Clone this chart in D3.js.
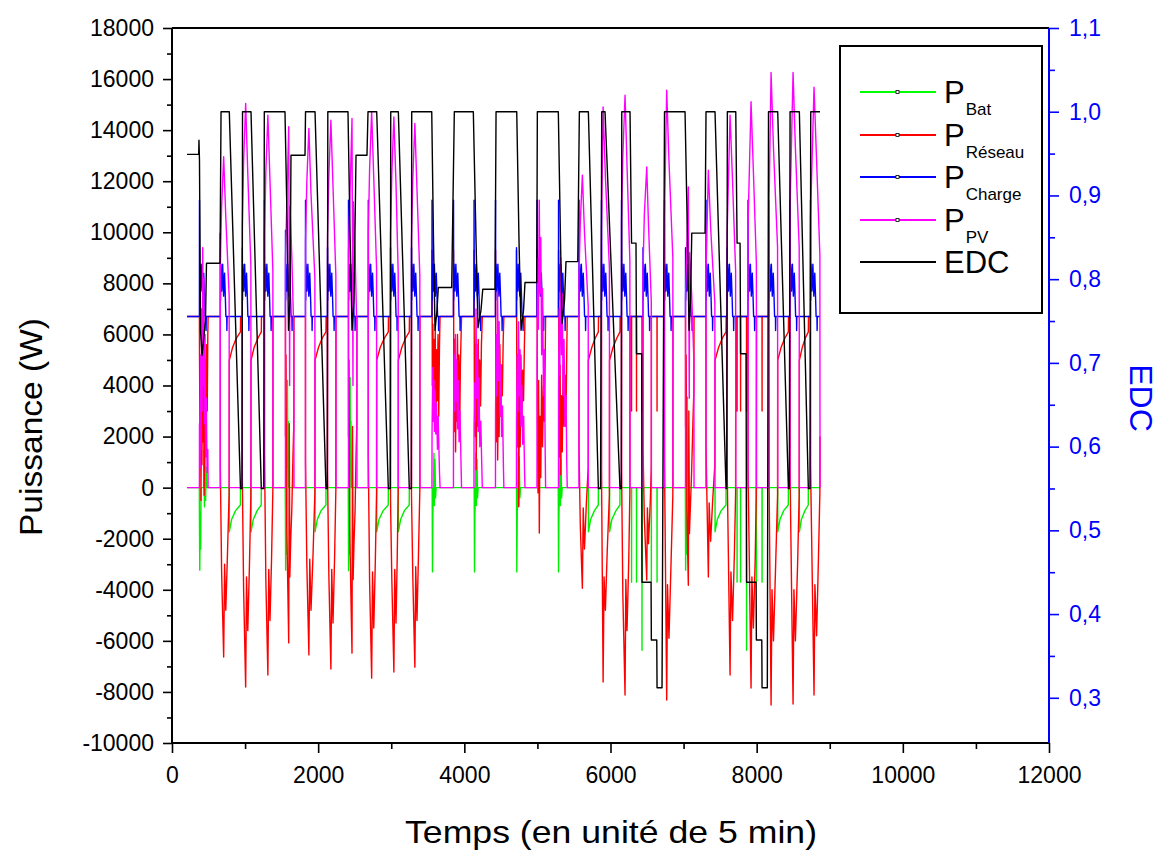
<!DOCTYPE html>
<html>
<head>
<meta charset="utf-8">
<script src="https://cdn.jsdelivr.net/npm/d3@7"></script>
<style>
  body { margin: 0; background: #fff; }
  text { font-family: "Liberation Sans", Arial, sans-serif; }
</style>
</head>
<body>
<svg id="chart" width="1166" height="855"></svg>
<script>
// ---- axis ticks ----
const timeTicks = [0, 2000, 4000, 6000, 8000, 10000, 12000];
const powerTicks = [-10000, -8000, -6000, -4000, -2000, 0, 2000, 4000, 6000, 8000, 10000, 12000, 14000, 16000, 18000];
const edcTicks = [0.3, 0.4, 0.5, 0.6, 0.7, 0.8, 0.9, 1.0, 1.1];

// ---- state of charge (right axis), [time, EDC] ----
const edcSeries = [
  [205,0.949],[365,0.949],[369,0.966],[376,0.942],[390,0.739],[411,0.709],[438,0.733],[458,0.751],[472,0.819],[657,0.819],[671,1.0],
  [784,1.0],[937,0.55],[958,0.55],[965,1.0],
  [1081,1.0],[1222,0.55],[1256,0.55],[1263,1.0],
  [1546,1.0],[1578,0.855],[1594,0.739],[1615,0.775],[1628,0.948],[1820,0.948],[1827,1.0],
  [1957,1.0],[2107,0.55],[2125,0.55],[2132,1.0],
  [2408,1.0],[2436,0.855],[2463,0.739],[2491,0.775],[2518,0.948],[2668,0.948],[2682,1.0],
  [2801,1.0],[2960,0.55],[2987,0.55],[2993,1.0],
  [3097,1.0],[3247,0.55],[3275,0.55],[3280,1.0],
  [3554,1.0],[3578,0.846],[3599,0.739],[3626,0.763],[3644,0.79],[3827,0.79],[3863,1.0],
  [4123,1.0],[4160,0.846],[4187,0.742],[4228,0.763],[4252,0.788],[4420,0.788],[4434,1.0],
  [4717,1.0],[4748,0.846],[4776,0.739],[4810,0.763],[4830,0.796],[4991,0.796],[4999,1.0],
  [5286,1.0],[5316,0.846],[5337,0.747],[5371,0.775],[5391,0.821],[5552,0.821],[5574,1.0],
  [5697,1.0],[5834,0.55],[5864,0.55],[5880,1.0],
  [5925,1.0],[6130,0.55],[6148,0.55],[6154,1.0],
  [6267,1.0],[6288,0.843],[6349,0.843],[6356,0.711],[6427,0.711],[6431,0.438],[6555,0.438],[6559,0.369],[6633,0.369],[6637,0.312],[6705,0.312],[6739,1.0],
  [7020,1.0],[7054,0.846],[7075,0.739],[7095,0.775],[7112,0.855],[7294,0.855],[7307,1.0],
  [7430,1.0],[7581,0.55],[7590,0.55],[7599,1.0],
  [7714,1.0],[7732,0.843],[7773,0.843],[7780,0.711],[7855,0.711],[7862,0.438],[7992,0.438],[7996,0.369],[8070,0.369],[8074,0.312],[8146,0.312],[8162,1.0],
  [8288,1.0],[8434,0.55],[8447,0.55],[8457,1.0],
  [8584,1.0],[8707,0.55],[8730,0.55],[8740,1.0],
  [8867,1.0]
];

// ---- photovoltaic power, [time, W] ----
const pvSeries = [
  [205,0],
  [375,0],[376,2500],[385,800],[392,5200],[398,1500],[405,7000],[412,3000],[420,9400],[428,4000],[436,8200],[444,2500],[452,6000],[460,1200],[470,3500],[480,600],[490,1500],[494,0],
  [660,0],[661,8800],[679,11000],[707,12960],[736,10600],[782,7500],[784,0],
  [961,0],[962,10200],[980,12800],[1008,15050],[1037,12300],[1079,8700],[1081,0],
  [1265,0],[1266,9900],[1284,12400],[1312,14590],[1341,12000],[1380,8500],[1382,0],
  [1552,0],[1553,9000],[1597,14130],[1610,4000],[1615,11000],[1640,9000],[1667,6000],[1669,0],
  [1826,0],[1827,9600],[1845,12000],[1873,14070],[1902,11500],[1955,8200],[1957,0],
  [2127,0],[2128,9800],[2146,12200],[2174,14390],[2203,11800],[2242,8300],[2244,0],
  [2414,0],[2415,9200],[2463,14460],[2476,4000],[2481,11200],[2505,9200],[2529,6200],[2531,0],
  [2685,0],[2686,10000],[2704,12500],[2732,14720],[2761,12100],[2799,8600],[2801,0],
  [2989,0],[2990,9900],[3008,12300],[3036,14520],[3065,11900],[3095,8400],[3097,0],
  [3276,0],[3277,9700],[3295,12100],[3323,14260],[3352,11700],[3391,8300],[3393,0],
  [3557,0],[3558,2100],[3568,4700],[3575,2600],[3584,4200],[3592,2200],[3600,3800],[3610,2100],[3620,3300],[3632,1500],[3642,2800],[3660,600],[3668,0],
  [3851,0],[3852,2500],[3862,5200],[3870,3000],[3878,6000],[3888,3400],[3896,5000],[3906,2300],[3916,4200],[3928,1800],[3940,3000],[3955,900],[3962,0],
  [4132,0],[4133,2400],[4142,4100],[4150,2600],[4160,7000],[4170,3500],[4180,5600],[4190,2200],[4200,4300],[4212,1600],[4225,2600],[4240,700],[4246,0],
  [4426,0],[4427,3000],[4437,6000],[4445,3600],[4455,7700],[4465,4200],[4476,6500],[4486,2800],[4498,4800],[4510,2000],[4522,3200],[4535,800],[4541,0],
  [4713,0],[4714,2600],[4724,5200],[4732,3000],[4742,6500],[4752,3600],[4762,5400],[4774,2400],[4786,4000],[4798,1700],[4812,2800],[4824,600],[4830,0],
  [4994,0],[4995,5000],[5005,9000],[5013,6200],[5025,11260],[5036,7600],[5046,9800],[5058,5200],[5070,7800],[5084,3600],[5096,5400],[5106,1500],[5112,0],
  [5288,0],[5289,3800],[5298,7000],[5306,4400],[5318,9000],[5330,5200],[5340,7600],[5352,3600],[5364,5800],[5378,2400],[5392,3600],[5402,900],[5408,0],
  [5568,0],[5569,8300],[5587,10400],[5615,12240],[5644,10000],[5695,7100],[5697,0],
  [5876,0],[5877,10100],[5899,14910],[5930,12200],[5985,8600],[5987,0],
  [6150,0],[6151,10400],[6169,13000],[6199,15370],[6226,12600],[6265,8900],[6267,0],
  [6444,0],[6445,8500],[6463,10700],[6496,12560],[6520,10300],[6558,7300],[6560,0],
  [6738,0],[6739,10600],[6769,15560],[6800,12800],[6853,9000],[6855,0],
  [7026,0],[7027,7500],[7065,11780],[7078,3500],[7083,9200],[7110,7600],[7141,5000],[7143,0],
  [7306,0],[7307,8500],[7339,12430],[7370,10200],[7428,7200],[7430,0],
  [7594,0],[7595,9900],[7636,14590],[7670,12000],[7712,8500],[7714,0],
  [7881,0],[7882,10300],[7923,15110],[7955,12400],[7996,8800],[7998,0],
  [8168,0],[8169,11000],[8197,16260],[8230,13300],[8286,9400],[8288,0],
  [8456,0],[8457,11000],[8498,16260],[8530,13300],[8582,9400],[8584,0],
  [8736,0],[8737,10600],[8785,15680],[8820,12800],[8865,9100],[8867,0]
];

// ---- grid power, [time, W] ----
const gridSeries = [
  [205,6700],[375,6700],
  [376,5500],[384,1200],[390,4800],[396,-500],[404,3600],[410,900],[418,5200],[424,1800],[432,4000],[440,-300],[448,2600],[456,5000],[464,1500],[474,5600],[482,3000],[490,6000],[494,6700],[660,6700],
  [661,800],[679,-3300],[707,-6630],[720,-3000],[736,-4800],[760,-2500],[782,-200],[784,4990],[830,5500],[880,5850],[937,6100],[939,6700],[961,6700],
  [962,400],[980,-4000],[1008,-7810],[1020,-3500],[1037,-5600],[1060,-3000],[1079,-300],[1081,4990],[1125,5500],[1175,5850],[1222,6100],[1224,6700],[1265,6700],
  [1266,1300],[1284,-3600],[1312,-7340],[1324,-3200],[1341,-5200],[1362,-2800],[1380,-100],[1382,6700],[1552,6700],
  [1553,2000],[1560,5200],[1570,-1500],[1585,-4000],[1597,-6080],[1605,2500],[1612,-3500],[1625,-2000],[1640,-800],[1655,1200],[1667,2500],[1669,6700],[1826,6700],
  [1827,1000],[1845,-3000],[1873,-6550],[1885,-2800],[1902,-4800],[1930,-2600],[1955,-200],[1957,4990],[2005,5500],[2055,5850],[2107,6100],[2109,6700],[2127,6700],
  [2128,600],[2146,-3400],[2174,-7100],[2186,-3200],[2203,-5300],[2225,-2700],[2242,-100],[2244,6700],[2414,6700],
  [2415,2000],[2422,5000],[2432,-1600],[2448,-4200],[2463,-6480],[2470,2400],[2478,-3600],[2490,-2200],[2505,-900],[2518,1200],[2529,2500],[2531,6700],[2685,6700],
  [2686,1200],[2704,-3700],[2732,-7460],[2744,-3300],[2761,-5500],[2782,-2900],[2799,-200],[2801,4990],[2850,5500],[2905,5850],[2960,6100],[2962,6700],[2989,6700],
  [2990,-500],[3008,-3600],[3036,-7220],[3048,-3200],[3065,-5300],[3082,-2700],[3095,-100],[3097,4990],[3145,5500],[3195,5850],[3247,6100],[3249,6700],[3276,6700],
  [3277,-300],[3295,-3500],[3323,-7030],[3335,-3100],[3352,-5200],[3372,-2700],[3391,-100],[3393,6700],[3557,6700],
  [3558,9300],[3562,4000],[3570,6400],[3578,2600],[3586,5800],[3594,3200],[3602,6200],[3610,2200],[3620,5400],[3630,3400],[3640,6000],[3650,2800],[3660,5600],[3668,6700],[3851,6700],
  [3852,9300],[3856,4500],[3864,2200],[3872,5800],[3880,1400],[3890,4800],[3898,2600],[3906,6000],[3916,3000],[3926,5200],[3936,2100],[3946,4800],[3956,6000],[3962,6700],[4132,6700],
  [4133,9300],[4137,4200],[4146,2000],[4154,5600],[4162,700],[4172,4400],[4180,2400],[4190,5800],[4200,2800],[4210,5000],[4222,3200],[4234,5600],[4246,6700],[4426,6700],
  [4427,9300],[4431,3800],[4440,1800],[4448,5400],[4456,1080],[4466,4200],[4476,2000],[4486,5600],[4496,2800],[4508,4800],[4520,3600],[4532,5800],[4541,6700],[4713,6700],
  [4714,9300],[4718,4000],[4726,1600],[4735,5200],[4744,-750],[4754,3800],[4764,1600],[4774,5200],[4786,2600],[4798,4600],[4810,3400],[4822,5600],[4830,6700],[4994,6700],
  [4995,9300],[4999,3400],[5008,-200],[5016,4200],[5026,-1780],[5036,2800],[5046,400],[5058,4400],[5070,1600],[5084,4000],[5096,2600],[5106,5000],[5112,6700],[5288,6700],
  [5289,9300],[5293,3800],[5302,1200],[5310,4800],[5320,500],[5330,3600],[5340,1400],[5352,4800],[5364,2400],[5378,4400],[5392,3000],[5402,5400],[5408,6700],[5568,6700],
  [5569,1500],[5587,-1500],[5615,-3940],[5627,-800],[5644,-2400],[5670,-600],[5695,800],[5697,4990],[5745,5500],[5790,5850],[5834,6100],[5836,6700],[5876,6700],
  [5877,600],[5899,-7610],[5912,-3500],[5930,-4800],[5955,-2500],[5985,-300],[5987,4990],[6035,5500],[6085,5850],[6130,6100],[6132,6700],[6150,6700],
  [6151,800],[6169,-4200],[6199,-8120],[6210,-3600],[6226,-5600],[6250,-2800],[6265,-200],[6267,6700],[6287,6700],[6288,3000],[6289,6700],[6355,6700],[6356,3000],[6357,6700],[6430,6700],[6431,3000],[6432,6700],[6444,6700],
  [6445,1500],[6463,-1200],[6496,-3620],[6505,-800],[6520,-2200],[6545,-500],[6558,800],[6559,3000],[6560,6700],[6636,6700],[6637,3000],[6638,6700],[6738,6700],
  [6739,1000],[6769,-8320],[6780,-3800],[6800,-5900],[6828,-3000],[6853,-300],[6855,6700],[7026,6700],
  [7027,2400],[7035,5200],[7045,-800],[7055,-2400],[7065,-3820],[7072,3000],[7080,-1800],[7095,-600],[7110,600],[7128,2600],[7141,3800],[7143,6700],[7306,6700],
  [7307,1600],[7339,-3500],[7350,-600],[7370,-2100],[7400,-400],[7428,900],[7430,4990],[7480,5500],[7530,5850],[7581,6100],[7583,6700],[7594,6700],
  [7595,1000],[7636,-7340],[7648,-3300],[7670,-5200],[7695,-2600],[7712,-200],[7714,6700],[7731,6700],[7732,3000],[7733,6700],[7779,6700],[7780,3000],[7781,6700],[7861,6700],[7862,3000],[7863,6700],[7881,6700],
  [7882,800],[7923,-7850],[7935,-3500],[7955,-5500],[7980,-2800],[7994,-300],[7996,3000],[7998,6700],[8073,6700],[8074,3000],[8075,6700],[8168,6700],
  [8169,600],[8197,-8510],[8210,-4000],[8230,-6000],[8260,-3000],[8286,-300],[8288,4990],[8335,5500],[8385,5850],[8434,6100],[8436,6700],[8456,6700],
  [8457,600],[8498,-8470],[8510,-4000],[8530,-6000],[8560,-3000],[8582,-300],[8584,4990],[8625,5500],[8665,5850],[8707,6100],[8709,6700],[8736,6700],
  [8737,900],[8785,-8120],[8797,-3800],[8820,-5800],[8845,-2800],[8865,-200],[8867,2000]
];

// ---- battery power, [time, W] ----
const batSeries = [
  [205,0],[374,0],[376,-1500],[380,-3230],[386,-1000],[392,-2400],[398,0],[434,0],[438,1470],[444,-750],[452,1200],[460,-500],[468,800],[476,0],
  [784,0],[785,-1725],[815,-1250],[870,-900],[936,-680],[937,0],
  [1081,0],[1082,-1725],[1112,-1250],[1165,-900],[1221,-680],[1222,0],
  [1550,0],[1555,-3230],[1561,-1200],[1567,-2600],[1572,0],[1580,4200],[1585,800],[1590,2600],[1596,0],
  [1957,0],[1958,-1725],[1988,-1250],[2040,-900],[2106,-680],[2107,0],
  [2412,0],[2416,-3250],[2422,-1200],[2428,-2600],[2432,0],[2437,4320],[2442,800],[2448,2600],[2454,0],
  [2801,0],[2802,-1725],[2832,-1250],[2890,-900],[2959,-680],[2960,0],
  [3097,0],[3098,-1725],[3128,-1250],[3180,-900],[3246,-680],[3247,0],
  [3560,0],[3564,-3300],[3570,-1000],[3578,0],[3584,1350],[3590,-700],[3598,1100],[3606,-400],[3614,0],
  [4135,0],[4139,-3300],[4145,-1000],[4153,0],[4159,1350],[4165,-700],[4173,1100],[4181,-400],[4189,0],
  [4714,0],[4718,-3300],[4724,-1000],[4732,0],[4738,1400],[4744,-700],[4752,1200],[4760,-400],[4768,0],
  [5285,0],[5289,-3300],[5295,-1000],[5303,0],[5309,1300],[5315,-700],[5323,1100],[5331,-400],[5339,0],
  [5697,0],[5698,-1725],[5728,-1250],[5780,-900],[5833,-680],[5834,0],
  [5987,0],[5988,-1725],[6018,-1250],[6075,-900],[6129,-680],[6130,0],
  [6287,0],[6288,-3700],[6289,0],[6355,0],[6356,-3700],[6357,0],[6430,0],[6431,-6370],[6432,0],[6558,0],[6559,-3700],[6560,0],[6636,0],[6637,-3700],[6638,0],
  [7024,0],[7028,-3230],[7034,-1200],[7040,-2600],[7046,0],[7052,3540],[7057,800],[7063,2400],[7069,0],
  [7430,0],[7431,-1725],[7461,-1250],[7515,-900],[7580,-680],[7581,0],
  [7731,0],[7732,-3700],[7733,0],[7779,0],[7780,-3700],[7781,0],[7861,0],[7862,-6370],[7863,0],[7995,0],[7996,-3700],[7997,0],[8073,0],[8074,-3700],[8075,0],
  [8288,0],[8289,-1725],[8319,-1250],[8370,-900],[8433,-680],[8434,0],
  [8584,0],[8585,-1725],[8612,-1250],[8660,-900],[8706,-680],[8707,0],
  [8867,0]
];

// ---- load: same daily profile each day, shifted to each morning ----
const loadStart = [205, 6700];
const loadEnd = [8867, 6700];
const loadSunrise = [376,661,962,1266,1553,1827,2128,2415,2686,2990,3277,3558,3852,4133,4427,4714,4995,5289,5569,5877,6151,6445,6739,7027,7307,7595,7882,8169,8457,8737];
const loadPeak = [11260,9960,9400,11260,10080,11260,9400,11260,11260,9400,9400,11260,11260,11260,11260,9400,11260,11260,11260,11260,11260,9400,11260,9400,11260,9400,11260,11260,11260,11260];
// offset in 5-min steps from sunrise, W (null = morning peak of that day)
const loadProfile = [[-1,6700],[0,null],[3,7340],[8,8750],[20,7700],[32,8750],[45,7500],[58,8400],[70,7340],[76,6700],[88,6700],[90,6150],[93,6700]];

const loadSeries = [loadStart];
loadSunrise.forEach((s, i) => {
  loadProfile.forEach(([o, v]) => loadSeries.push([s + o, v === null ? loadPeak[i] : v]));
});
loadSeries.push(loadEnd);

// ---- drawing ----
const svg = d3.select('#chart');
const X0 = 172, X1 = 1049, Y0 = 743, Y1 = 28;
const x = d3.scaleLinear().domain([0, 12000]).range([X0, X1]);
const yL = d3.scaleLinear().domain([-10000, 18000]).range([Y0, Y1]);
const yR = d3.scaleLinear().domain([0.246, 1.1]).range([Y0, Y1]);

const plot = svg.append('g');
plot.append('clipPath').attr('id', 'clip').append('rect')
  .attr('x', X0).attr('y', Y1).attr('width', X1 - X0).attr('height', Y0 - Y1);
const layer = plot.append('g').attr('clip-path', 'url(#clip)');

const lineL = d3.line().x(d => x(d[0])).y(d => yL(d[1]));
const lineR = d3.line().x(d => x(d[0])).y(d => yR(d[1]));

const series = [
  { data: batSeries, color: '#00ee00', gen: lineL },
  { data: gridSeries, color: '#ff0000', gen: lineL },
  { data: loadSeries, color: '#0000ff', gen: lineL },
  { data: pvSeries, color: '#ff00ff', gen: lineL },
  { data: edcSeries, color: '#000000', gen: lineR }
];
series.forEach(s => {
  layer.append('path').attr('d', s.gen(s.data))
    .attr('fill', 'none').attr('stroke', s.color)
    .attr('stroke-width', 1.4).attr('stroke-linejoin', 'round');
});

// ---- axes ----
const tickFont = 23;
const gL = svg.append('g').attr('transform', `translate(${X0},0)`);
gL.call(d3.axisLeft(yL).tickValues(powerTicks).tickSize(9).tickPadding(9).tickFormat(d => String(d)));
gL.append('g').call(d3.axisLeft(yL).tickValues(d3.range(-9000, 18000, 2000)).tickSize(5).tickFormat(''));
gL.selectAll('text').attr('font-size', tickFont).attr('fill', '#000').attr('font-family', '"Liberation Sans", Arial, sans-serif');
gL.selectAll('path.domain').remove();
gL.selectAll('line').attr('stroke', '#000').attr('stroke-width', 1.6);

const gB = svg.append('g').attr('transform', `translate(0,${Y0})`);
gB.call(d3.axisBottom(x).tickValues(timeTicks).tickSize(10).tickPadding(14).tickFormat(d => String(d)));
gB.append('g').call(d3.axisBottom(x).tickValues(d3.range(1000, 12000, 2000)).tickSize(6).tickFormat(''));
gB.selectAll('text').attr('font-size', tickFont).attr('fill', '#000').attr('font-family', '"Liberation Sans", Arial, sans-serif');
gB.selectAll('path.domain').remove();
gB.selectAll('line').attr('stroke', '#000').attr('stroke-width', 1.6);

const gR = svg.append('g').attr('transform', `translate(${X1},0)`);
gR.call(d3.axisRight(yR).tickValues(edcTicks).tickSize(10).tickPadding(10)
  .tickFormat(d => d.toFixed(1).replace('.', ',')));
gR.append('g').call(d3.axisRight(yR).tickValues([0.35, 0.45, 0.55, 0.65, 0.75, 0.85, 0.95, 1.05]).tickSize(6).tickFormat(''));
gR.selectAll('text').attr('font-size', tickFont).attr('fill', '#0000ff').attr('font-family', '"Liberation Sans", Arial, sans-serif');
gR.selectAll('path.domain').remove();
gR.selectAll('line').attr('stroke', '#0000ff').attr('stroke-width', 1.6);

// frame
svg.append('line').attr('x1', X0).attr('x2', X0).attr('y1', Y1).attr('y2', Y0).attr('stroke', '#000').attr('stroke-width', 2);
svg.append('line').attr('x1', X0).attr('x2', X1).attr('y1', Y0).attr('y2', Y0).attr('stroke', '#000').attr('stroke-width', 2);
svg.append('line').attr('x1', X0).attr('x2', X1).attr('y1', Y1).attr('y2', Y1).attr('stroke', '#000').attr('stroke-width', 2);
svg.append('line').attr('x1', X1).attr('x2', X1).attr('y1', Y1).attr('y2', Y0).attr('stroke', '#0000ff').attr('stroke-width', 2);

// axis titles
svg.append('text').attr('transform', 'translate(42,427) rotate(-90)')
  .attr('text-anchor', 'middle').attr('font-size', 32).attr('fill', '#000')
  .attr('textLength', 218).attr('lengthAdjust', 'spacingAndGlyphs').text('Puissance (W)');
svg.append('text').attr('x', 611).attr('y', 843)
  .attr('text-anchor', 'middle').attr('font-size', 32).attr('fill', '#000')
  .attr('textLength', 412).attr('lengthAdjust', 'spacingAndGlyphs').text('Temps (en unité de 5 min)');
svg.append('text').attr('transform', 'translate(1130,398) rotate(90)')
  .attr('text-anchor', 'middle').attr('font-size', 32).attr('fill', '#0000ff').text('EDC');

// ---- legend ----
const legendItems = [
  { main: 'P', sub: 'Bat', color: '#00ff00', y: 92 },
  { main: 'P', sub: 'Réseau', color: '#ff0000', y: 135 },
  { main: 'P', sub: 'Charge', color: '#0000ff', y: 177 },
  { main: 'P', sub: 'PV', color: '#ff00ff', y: 220 },
  { main: 'EDC', sub: '', color: '#000000', y: 262 }
];
const lg = svg.append('g');
lg.append('rect').attr('x', 840).attr('y', 46).attr('width', 202).attr('height', 267)
  .attr('fill', '#fff').attr('stroke', '#000').attr('stroke-width', 2);
legendItems.forEach(it => {
  lg.append('line').attr('x1', 860).attr('x2', 936).attr('y1', it.y).attr('y2', it.y)
    .attr('stroke', it.color).attr('stroke-width', 2);
  if (it.sub) {
    lg.append('rect').attr('x', 896).attr('y', it.y - 1.5).attr('width', 3).attr('height', 3)
      .attr('fill', '#fff').attr('stroke', '#000').attr('stroke-width', 0.8);
  } else {
    lg.append('circle').attr('cx', 897.5).attr('cy', it.y).attr('r', 1).attr('fill', '#000');
  }
  const t = lg.append('text').attr('x', 944).attr('y', it.y + 11).attr('font-size', 31).attr('fill', '#000');
  t.append('tspan').text(it.main);
  if (it.sub) t.append('tspan').attr('font-size', 17).attr('dy', 12).attr('dx', 1).text(it.sub);
});
</script>
</body>
</html>
